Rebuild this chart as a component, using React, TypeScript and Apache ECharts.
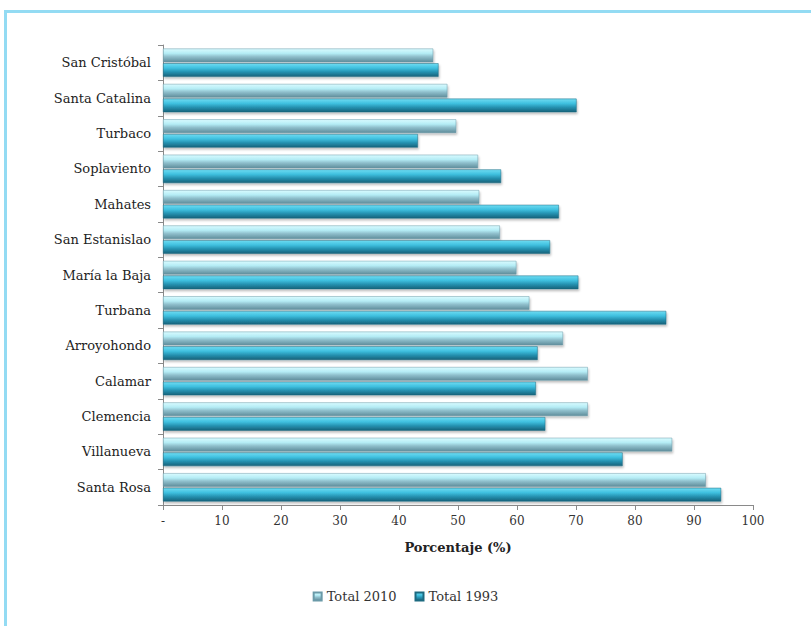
import React, { useEffect, useRef } from "react";
import * as echarts from "echarts";

const categories = [
  "San Cristóbal",
  "Santa Catalina",
  "Turbaco",
  "Soplaviento",
  "Mahates",
  "San Estanislao",
  "María la Baja",
  "Turbana",
  "Arroyohondo",
  "Calamar",
  "Clemencia",
  "Villanueva",
  "Santa Rosa",
];

const total2010 = [45.8, 48.2, 49.7, 53.4, 53.6, 57.1, 59.9, 62.1, 67.8, 72.0, 72.0, 86.3, 92.0];
const total1993 = [46.7, 70.1, 43.2, 57.3, 67.1, 65.6, 70.4, 85.3, 63.5, 63.2, 64.8, 77.9, 94.6];

const seriesNames = ["Total 2010", "Total 1993"];

const FONT = "DejaVu Serif";

export default function App() {
  const ref = useRef<HTMLDivElement>(null);

  useEffect(() => {
    if (!ref.current) return;
    const chart = echarts.init(ref.current, null, { renderer: "svg" });
    const grad2010 = new echarts.graphic.LinearGradient(0, 0, 0, 1, [
      { offset: 0, color: "#d9fbff" },
      { offset: 0.35, color: "#b4ecf5" },
      { offset: 0.6, color: "#8fbfcc" },
      { offset: 1, color: "#5f8d9b" },
    ]);
    const grad1993 = new echarts.graphic.LinearGradient(0, 0, 0, 1, [
      { offset: 0, color: "#6fdcf2" },
      { offset: 0.35, color: "#3fc0df" },
      { offset: 0.65, color: "#2591b0" },
      { offset: 1, color: "#17627a" },
    ]);
    chart.setOption({
      animation: false,
      backgroundColor: "transparent",
      grid: { left: 163, right: 58, top: 45, bottom: 121, containLabel: false },
      legend: {
        bottom: 18,
        left: "center",
        itemWidth: 8,
        itemHeight: 8,
        itemGap: 18,
        icon: "rect",
        textStyle: { fontFamily: FONT, fontSize: 13, color: "#333" },
        data: seriesNames,
      },
      xAxis: {
        type: "value",
        min: 0,
        max: 100,
        interval: 10,
        name: "Porcentaje (%)",
        nameLocation: "middle",
        nameGap: 36,
        nameTextStyle: { fontFamily: FONT, fontSize: 13, fontWeight: "bold", color: "#222" },
        axisLine: { show: true, lineStyle: { color: "#8a8a8a" } },
        axisTick: { show: true, length: 5, lineStyle: { color: "#8a8a8a" } },
        splitLine: { show: false },
        axisLabel: {
          fontFamily: FONT,
          fontSize: 12,
          color: "#333",
          margin: 10,
          formatter: (v: number) => (v === 0 ? "-" : String(v)),
        },
      },
      yAxis: {
        type: "category",
        inverse: true,
        data: categories,
        axisLine: { show: true, lineStyle: { color: "#8a8a8a" } },
        axisTick: { show: true, length: 5, lineStyle: { color: "#8a8a8a" } },
        axisLabel: { fontFamily: FONT, fontSize: 13, color: "#222", margin: 12 },
        splitLine: { show: false },
      },
      series: [
        {
          name: seriesNames[0],
          type: "bar",
          data: total2010,
          barGap: "8%",
          barCategoryGap: "20%",
          itemStyle: {
            color: grad2010,
            borderColor: "#6a9aa8",
            borderWidth: 0.5,
            shadowColor: "rgba(0,0,0,0.25)",
            shadowBlur: 2,
            shadowOffsetY: 2,
            shadowOffsetX: 1,
          },
        },
        {
          name: seriesNames[1],
          type: "bar",
          data: total1993,
          barGap: "8%",
          barCategoryGap: "20%",
          itemStyle: {
            color: grad1993,
            borderColor: "#1c6a80",
            borderWidth: 0.5,
            shadowColor: "rgba(0,0,0,0.25)",
            shadowBlur: 2,
            shadowOffsetY: 2,
            shadowOffsetX: 1,
          },
        },
      ],
    });
    return () => chart.dispose();
  }, []);

  return (
    <div style={{ position: "absolute", left: 0, top: 0, width: 811, height: 626, background: "#fff", overflow: "hidden" }}>
      <div
        style={{
          position: "absolute",
          left: 4,
          top: 10,
          width: 820,
          height: 640,
          borderTop: "3px solid #93dbf3",
          borderLeft: "3px solid #93dbf3",
          boxSizing: "border-box",
        }}
      />
      <div ref={ref} style={{ position: "absolute", left: 0, top: 0, width: 811, height: 626 }} />
    </div>
  );
}
